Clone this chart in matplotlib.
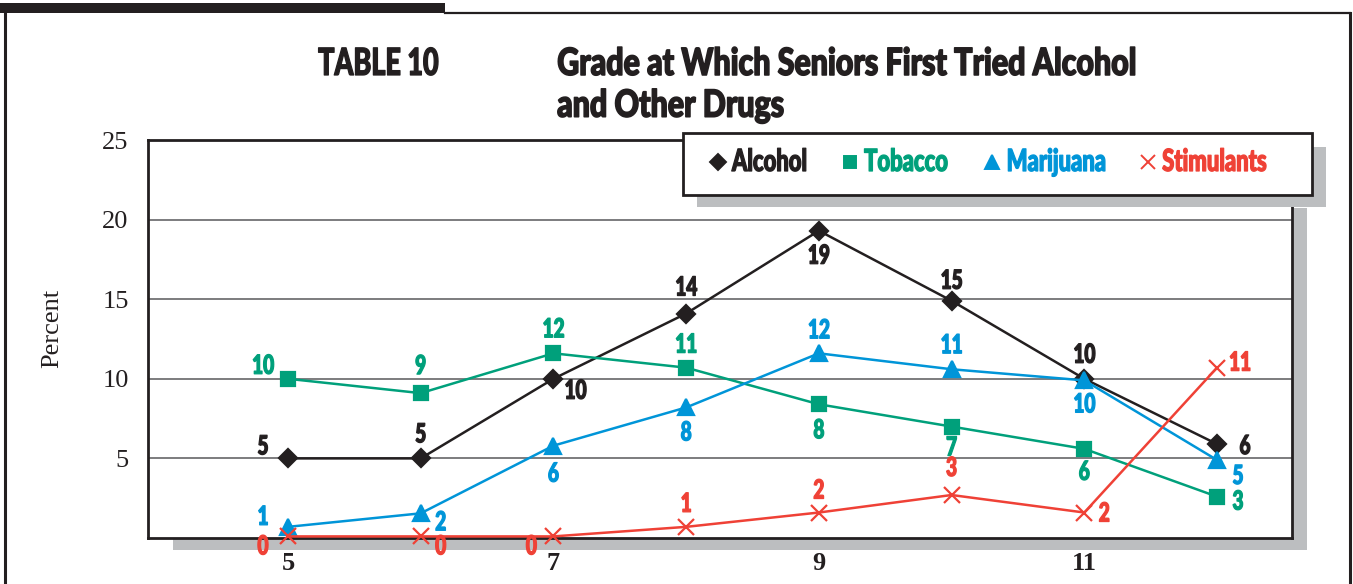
import matplotlib
matplotlib.use("Agg")
import matplotlib.pyplot as plt
from matplotlib.patches import Rectangle
from matplotlib.lines import Line2D
from matplotlib.transforms import Affine2D
from matplotlib import patheffects

# grade level and percent of seniors who first tried each substance
grades = [5, 6, 7, 8, 9, 10, 11, 12]
grade_ticks = [5, 7, 9, 11]
alcohol = [5.0, 5.0, 10.0, 14.1, 19.3, 14.9, 10.0, 5.9]
tobacco = [10.0, 9.1, 11.6, 10.7, 8.4, 7.0, 5.6, 2.6]
marijuana = [0.7, 1.55, 5.8, 8.2, 11.6, 10.6, 9.9, 4.9]
stimulants = [0.1, 0.1, 0.1, 0.7, 1.6, 2.7, 1.6, 10.7]

series_names = ["Alcohol", "Tobacco", "Marijuana", "Stimulants"]
series_values = [alcohol, tobacco, marijuana, stimulants]
colors = ["#231f20", "#00a07b", "#0095d8", "#ef4136"]
markers = ["D", "s", "^", "x"]
marker_sizes = [9, 10, 11, 11]

# label offsets (pixels, y up) per series and grade
label_offsets = [
    [(-25, 12), (0, 24), (22, -12), (0, 26), (0, -25), (0, 20), (0, 24), (28, -2)],
    [(-25, 13), (0, 27), (0, 24), (0, 23), (0, -26), (0, -21), (0, -23), (21, -5)],
    [(-25, 10), (20, -9), (0, -28), (0, -25), (0, 23), (0, 24), (0, -24), (21, -16)],
    [(-25, -10), (20, -10), (-22, -10), (0, 23), (0, 22), (0, 27), (20, -1), (23, 5)],
]

W, H = 1353, 584
HEAVY = ["Lato", "DejaVu Sans"]
SERIF = "Liberation Serif"
INK = "#231f20"


class Squeeze(patheffects.AbstractPathEffect):
    """Narrow the glyphs horizontally and thicken them with an outline."""

    def __init__(self, sx, anchor="center", stroke=0.8):
        super().__init__()
        self.sx = sx
        self.anchor = anchor
        self.stroke = stroke

    def draw_path(self, renderer, gc, tpath, affine, rgbFace=None):
        ext = tpath.get_extents()
        cx = ext.x0 if self.anchor == "left" else (ext.x0 + ext.x1) / 2
        squeeze = Affine2D().translate(-cx, 0).scale(self.sx, 1).translate(cx, 0)
        gc0 = renderer.new_gc()
        gc0.copy_properties(gc)
        if rgbFace is not None:
            gc0.set_foreground(rgbFace)
        gc0.set_linewidth(self.stroke)
        gc0.set_joinstyle("round")
        renderer.draw_path(gc0, tpath, squeeze + affine, rgbFace)
        gc0.restore()


NARROW_C = [Squeeze(0.72, "center", 0.9)]
NARROW_L = [Squeeze(0.72, "left", 0.9)]
NARROW_T = [Squeeze(0.81, "left", 1.1)]

fig = plt.figure(figsize=(W / 100, H / 100), dpi=100)
fig.patch.set_facecolor("white")


def px_box(x0, y0, x1, y1):
    """pixel box (top-left origin) -> figure fraction (left, bottom, w, h)"""
    return x0 / W, 1 - y1 / H, (x1 - x0) / W, (y1 - y0) / H


def fig_rect(x0, y0, x1, y1, **kw):
    l, b, w, h = px_box(x0, y0, x1, y1)
    r = Rectangle((l, b), w, h, transform=fig.transFigure, **kw)
    fig.patches.append(r)
    return r


def fig_line(xs, ys, **kw):
    fig.lines.append(Line2D([x / W for x in xs], [1 - y / H for y in ys],
                            transform=fig.transFigure, **kw))


# page frame
fig_rect(0, 3, 445, 13, facecolor=INK, edgecolor="none", zorder=1)
fig_line([445, 1350], [13, 13], color=INK, lw=1.6, zorder=1)
fig_line([5, 5], [13, 584], color=INK, lw=2.2, zorder=1)
fig_line([1350, 1350], [13, 584], color=INK, lw=2.2, zorder=1)

# drop shadows behind plot and legend
fig_rect(173, 208, 1307, 550, facecolor="#bcbec0", edgecolor="none", zorder=0)
fig_rect(697, 147, 1326, 207, facecolor="#bcbec0", edgecolor="none", zorder=3)

ax = fig.add_axes(px_box(148, 140, 1292, 538), zorder=2)
ax.set_facecolor("white")
ax.set_xlim(3.945, 12.565)
ax.set_ylim(0, 25)

for yv in [5, 10, 15, 20]:
    ax.axhline(yv, color="#58595b", lw=1.1, zorder=1)

for name, vals, c, m, ms, offs in zip(series_names, series_values, colors,
                                      markers, marker_sizes, label_offsets):
    ax.plot(grades, vals, color=c, lw=1.8, marker=m, ms=ms, mew=1.6,
            clip_on=False, zorder=4)
    for g, v, (dx, dy) in zip(grades, vals, offs):
        ax.annotate(str(round(v)), (g, v), xytext=(dx, dy),
                    textcoords="offset pixels", ha="center", va="center",
                    color=c, fontsize=19, fontweight="black", family=HEAVY,
                    path_effects=NARROW_C, zorder=5, annotation_clip=False)

for s in ax.spines.values():
    s.set_linewidth(2.0)
    s.set_color(INK)

ax.set_yticks([5, 10, 15, 20, 25])
ax.set_xticks(grade_ticks, labels=[str(g) for g in grade_ticks],
              fontweight="bold")
ax.tick_params(length=0, labelsize=19, labelcolor=INK,
               labelfontfamily=SERIF)
ax.tick_params(axis="y", pad=14)
ax.tick_params(axis="x", pad=10)

fig.text(52 / W, 1 - 328 / H, "Percent", rotation=90, ha="center",
         va="center", fontsize=19, family=SERIF, color=INK)

# headings
title_kw = dict(ha="left", va="center", fontsize=27, fontweight="black",
                family=HEAVY, color=INK)
fig.text(318 / W, 1 - 64 / H, "TABLE 10", path_effects=NARROW_L, **title_kw)
fig.text(557 / W, 1 - 64 / H, "Grade at Which Seniors First Tried Alcohol",
         path_effects=NARROW_T, **title_kw)
fig.text(557 / W, 1 - 106 / H, "and Other Drugs", path_effects=NARROW_T,
         **title_kw)

# legend box
fig_rect(683, 133, 1312, 195, facecolor="white", edgecolor=INK,
         lw=2.0, zorder=4)
legend_x = [718, 850, 992, 1148]
for name, c, m, ms, lx in zip(series_names, colors, markers, marker_sizes,
                              legend_x):
    fig.lines.append(Line2D([lx / W], [1 - 162 / H], marker=m, ms=ms * 0.9,
                            mew=1.4, color=c, linestyle="none",
                            transform=fig.transFigure, zorder=5))
    fig.text((lx + 14) / W, 1 - 162 / H, name, ha="left", va="center",
             fontsize=22, fontweight="black", family=HEAVY, color=c,
             path_effects=NARROW_L, zorder=5)

fig.savefig("out.png", dpi=100)
